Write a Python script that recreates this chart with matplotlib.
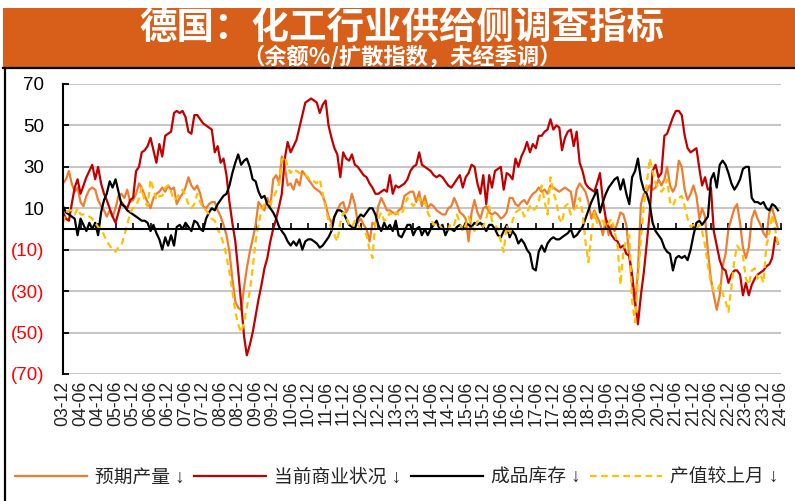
import matplotlib
matplotlib.use("Agg")
import matplotlib.pyplot as plt
import matplotlib.dates as mdates
from matplotlib.lines import Line2D
from matplotlib.patches import Rectangle
import pandas as pd

plt.rcParams['font.family'] = ['Liberation Sans', 'Noto Sans CJK SC', 'DejaVu Sans']

# Monthly survey balances, starting 2003-12
start_month = '2003-12-01'

expected_production = [
    22, 24, 28, 22, 18, 20, 13, 11, 16, 19, 20, 19,
    14, 11, 9, 6, 9, 6, 10, 16, 17, 15, 19, 13,
    14, 17, 22, 20, 16, 13, 10, 15, 17, 18, 20, 18,
    21, 19, 20, 12, 15, 17, 20, 25, 21, 19, 21, 17,
    11, 10, 12, 13, 13, 9, 6, 2, -3, -11, -24, -35,
    -38, -39, -28, -19, -11, -5, 2, 13, 11, 9, 15, 11,
    24, 26, 22, 35, 30, 21, 22, 19, 24, 21, 28, 26,
    24, 22, 20, 19, 18, 16, 12, 6, 3, 6, 9, 12,
    13, 8, 11, 17, 12, 3, 5, 2, 0, -6, 3, 2,
    11, 15, 12, 9, 9, 8, 7, 9, 10, 16, 17, 18,
    18, 13, 18, 11, 16, 10, 12, 11, 9, 8, 7, 7,
    10, 11, 15, 12, 8, 7, 5, -6, 8, 14, 8, 5,
    10, 11, 8, 7, 8, 7, 5, 6, 8, 15, 15, 12,
    11, 13, 14, 12, 15, 17, 18, 20, 18, 19, 17, 21,
    20, 19, 18, 19, 20, 19, 18, 10, 19, 22, 20, 18,
    13, 5, 9, 6, 3, -3, 5, -3, 2, -1, 3, 8,
    7, 2, -13, -27, -37, -20, 12, 17, 18, 21, 19, 20,
    24, 21, 24, 30, 21, 18, 21, 33, 30, 19, 14, 17,
    21, 16, 5, 10, 6, -11, -24, -32, -39, -32, -18, -12,
    0, 5, 10, 12, 3, -9, -14, -9, 5, 9, 5, 2,
    -2, -4, 8, 10, 5, 0,
]

current_business = [
    8, 5, 4, 12, 20, 24, 17, 21, 25, 28, 31, 24,
    30, 22, 17, 14, 10, 6, 3, 8, 13, 11, 10, 14,
    15, 28, 30, 37, 38, 40, 44, 38, 32, 41, 35, 45,
    46, 47, 56, 57, 56, 57, 54, 47, 46, 55, 55, 53,
    51, 50, 49, 48, 37, 40, 32, 34, 26, 13, 3, -6,
    -20, -36, -52, -61, -56, -50, -42, -34, -27, -19, -14, -6,
    0, 5, 11, 17, 34, 42, 37, 40, 43, 49, 55, 61,
    62, 63, 62, 61, 56, 60, 62, 50, 44, 39, 36, 25,
    37, 34, 33, 36, 31, 30, 28, 26, 25, 22, 20, 17,
    17, 18, 19, 18, 26, 17, 21, 20, 21, 22, 24, 28,
    30, 31, 37, 31, 30, 29, 28, 26, 25, 26, 25, 23,
    21, 20, 22, 24, 26, 20, 25, 27, 31, 30, 22, 17,
    26, 12, 26, 20, 28, 29, 30, 19, 27, 26, 24, 34,
    30, 35, 38, 42, 37, 41, 39, 45, 45, 47, 48, 53,
    48, 50, 49, 38, 44, 47, 48, 40, 47, 32, 28, 22,
    20, 19, 18, 22, 27, 14, 5, 1, -3, -5, -6, -9,
    -8, -12, -13, -22, -35, -46, -32, -21, -7, 8, 28, 31,
    25, 27, 45, 46, 50, 54, 57, 57, 55, 45, 39, 37,
    38, 39, 29, 21, 25, 19, 20, -1, -8, -15, -19, -20,
    -26, -22, -20, -20, -22, -32, -26, -32, -27, -24, -22, -21,
    -20, -18, -17, -14, -4, -7,
]

finished_inventory = [
    11, 8, 7, 6, 5, -3, 5, 2, -1, 3, 0, 3,
    -3, 8, 14, 17, 23, 20, 24, 18, 12, 11, 9, 8,
    7, 6, 5, 4, 4, 3, -1, 2, -2, -5, -10, -4,
    -8, -3, -8, 1, 2, 0, 3, 1, -1, 4, 3, 0,
    -1, 5, 8, 10, 9, 12, 14, 16, 17, 21, 27, 32,
    36, 31, 33, 34, 30, 24, 23, 18, 15, 16, 12, 10,
    8, 5, 1, -1, -3, -6, -8, -6, -8, -5, -10, -6,
    -5, -5, -6, -7, -9, -8, -6, -4, -1, 6, 9, 9,
    8, 5, 2, 1, 0, 5, 7, 6, 8, 10, 10, 7,
    2, -1, 3, 0, 2, -1, 4, -3, -4, -1, 2, 2,
    -3, 0, 1, -3, 0, -3, 0, 2, 4, 0, 2, -3,
    0, 0, -1, 1, 2, 0, 3, 2, 1, 3, 2, 3,
    1, -1, 2, 2, 0, -3, -4, -1, 2, -4, -1, -3,
    -7, -5, -7, -10, -12, -19, -20, -11, -8, -11, -7, -5,
    -4, -5, -5, -4, -3, -2, 0, -4, -3, -1, 1, 5,
    9, 13, 16, 19, 8, 13, 17, 20, 22, 24, 25, 19,
    24, 17, 12, 25, 28, 34, 24, 19, 17, 12, 3, -1,
    -3, -5, -9, -11, -12, -20, -14, -13, -14, -13, -15, -10,
    -3, 3, 4, 2, 4, 6, 24, 27, 20, 31, 33, 31,
    27, 22, 19, 21, 24, 29, 30, 30, 15, 13, 13, 12,
    13, 10, 9, 12, 11, 9,
]

output_vs_last_month = [
    3, 8, 9, 9, 7, 10, 7, 7, 7, 6, 5, 3,
    1, 0, -3, -6, -8, -10, -11, -9, -8, -3, 2, 8,
    10, 11, 15, 20, 13, 11, 24, 19, 14, 16, 16, 20,
    21, 18, 14, 15, 17, 19, 16, 12, 10, 12, 17, 13,
    10, 9, 7, 5, 4, 0, -3, -7, -13, -21, -30, -40,
    -46, -50, -45, -38, -30, -19, -6, 2, 9, 12, 13, 12,
    15, 18, 22, 33, 35, 30, 27, 29, 28, 27, 27, 26,
    25, 23, 23, 22, 24, 17, 10, 4, 0, -3, -6, 3,
    8, 6, 2, 1, 4, 2, 0, -1, -3, -10, -14, 3,
    5, 8, 4, 5, 8, 6, 8, 7, 7, 11, 15, 13,
    11, 13, 15, 12, 13, 8, 5, 2, 3, 2, 0, -1,
    0, 3, 2, 7, 3, -1, 2, 6, 2, -1, 4, 2,
    1, 5, 11, 4, 2, 0, -6, -11, 2, -3, 4, 8,
    9, 10, 6, 8, 11, 9, 10, 13, 21, 13, 7, 25,
    18, 13, 5, 3, 11, 12, 7, 9, 11, 15, 8, -6,
    -16, -3, 8, 3, 4, 4, 1, 3, 5, -1, -8, -27,
    -11, -5, -3, -35, -45, -24, -5, 11, 22, 34, 28, 22,
    20, 18, 20, 24, 13, 11, 15, 15, 16, 11, 5, 1,
    2, 0, 2, -1, -8, -18, -26, -30, -30, -27, -31, -35,
    -40, -28, -15, -8, -10, -13, -24, -27, -20, -19, -24, -22,
    -26, -8, -2, 7, 0, -8,
]

series_labels = ['预期产量 ↓', '当前商业状况 ↓', '成品库存 ↓', '产值较上月 ↓']
series_values = [expected_production, current_business, finished_inventory, output_vs_last_month]
series_colors = ['#ED7D31', '#C00000', '#000000', '#FFC000']
series_styles = ['-', '-', '-', (0, (3, 2))]

y_ticks = [-70, -50, -30, -10, 10, 30, 50, 70]
y_tick_labels = ['(70)', '(50)', '(30)', '(10)', '10', '30', '50', '70']
axis_start, axis_end = '2003-12-01', '2024-06-01'

W, H = 795, 501
fig = plt.figure(figsize=(W / 100, H / 100), dpi=100)

# Orange title banner
fig.patches.append(Rectangle((3 / W, 1 - 68 / H), 1 - 3 / W, 60 / H,
                             transform=fig.transFigure, facecolor='#D85F19',
                             edgecolor='none', zorder=0))
fig.text(402 / W, 1 - 27 / H, '德国：化工行业供给侧调查指标', color='white',
         fontsize=27, fontweight='bold', ha='center', va='center',
         family=['Noto Sans CJK SC', 'DejaVu Sans'])
fig.text(402 / W, 1 - 57 / H, '（余额%/扩散指数，未经季调）', color='white',
         fontsize=16, fontweight='bold', ha='center', va='center',
         family=['Noto Sans CJK SC', 'DejaVu Sans'])

# Frame lines (top and left)
fig.add_artist(Line2D([3 / W, 1], [1 - 68 / H, 1 - 68 / H], color='black',
                      lw=1.6, transform=fig.transFigure))
fig.add_artist(Line2D([5 / W, 5 / W], [0, 1 - 68 / H], color='black',
                      lw=1.6, transform=fig.transFigure))

ax = fig.add_axes([63 / W, 1 - 374 / H, 718 / W, 290 / H])

handles = []
for vals, lab, col, ls in zip(series_values, series_labels, series_colors, series_styles):
    dates = pd.date_range(start_month, periods=len(vals), freq='MS')
    line, = ax.plot(dates, vals, color=col, lw=1.6, ls=ls, label=lab,
                    solid_joinstyle='round')
    handles.append(line)

tick_dates = pd.date_range(axis_start, axis_end, freq='6MS')
tick_nums = mdates.date2num(tick_dates)
ax.set_xlim(mdates.date2num(pd.Timestamp(axis_start)),
            mdates.date2num(pd.Timestamp(axis_end)))
ax.set_ylim(-70, 70)

# y axis
ax.set_yticks(y_ticks)
ax.set_yticklabels(y_tick_labels)
for lbl, v in zip(ax.get_yticklabels(), y_ticks):
    lbl.set_color('#FF0000' if v < 0 else 'black')
ax.tick_params(axis='y', direction='in', length=4.5, width=1.3, pad=13.5,
               labelsize=13.5)
ax.grid(axis='y', color='#C0C0C0', lw=1.3)
ax.set_axisbelow(True)

for s in ['top', 'right']:
    ax.spines[s].set_visible(False)
ax.spines['left'].set_linewidth(1.5)

# horizontal axis line through zero with upward ticks
ax.spines['bottom'].set_position(('data', 0))
ax.spines['bottom'].set_linewidth(1.5)
ax.set_xticks(tick_nums)
ax.tick_params(axis='x', direction='in', length=4.5, width=1.2, labelbottom=False)

# date labels along the bottom edge
sec = ax.secondary_xaxis('bottom')
sec.set_xticks(tick_nums)
sec.set_xticklabels([d.strftime('%y-%m') for d in tick_dates])
sec.tick_params(length=0, pad=5, labelsize=12.7, labelrotation=90, colors='#222222')
sec.spines['bottom'].set_visible(False)

fig.legend(handles, series_labels, loc='center left',
           bbox_to_anchor=(15 / W, 1 - 478 / H), ncol=4, frameon=False,
           prop={'size': 13.5}, handlelength=3.85, handletextpad=0.43,
           columnspacing=0.5, borderpad=0, borderaxespad=0,
           labelcolor='#262626')

fig.savefig('out.png', dpi=100)
